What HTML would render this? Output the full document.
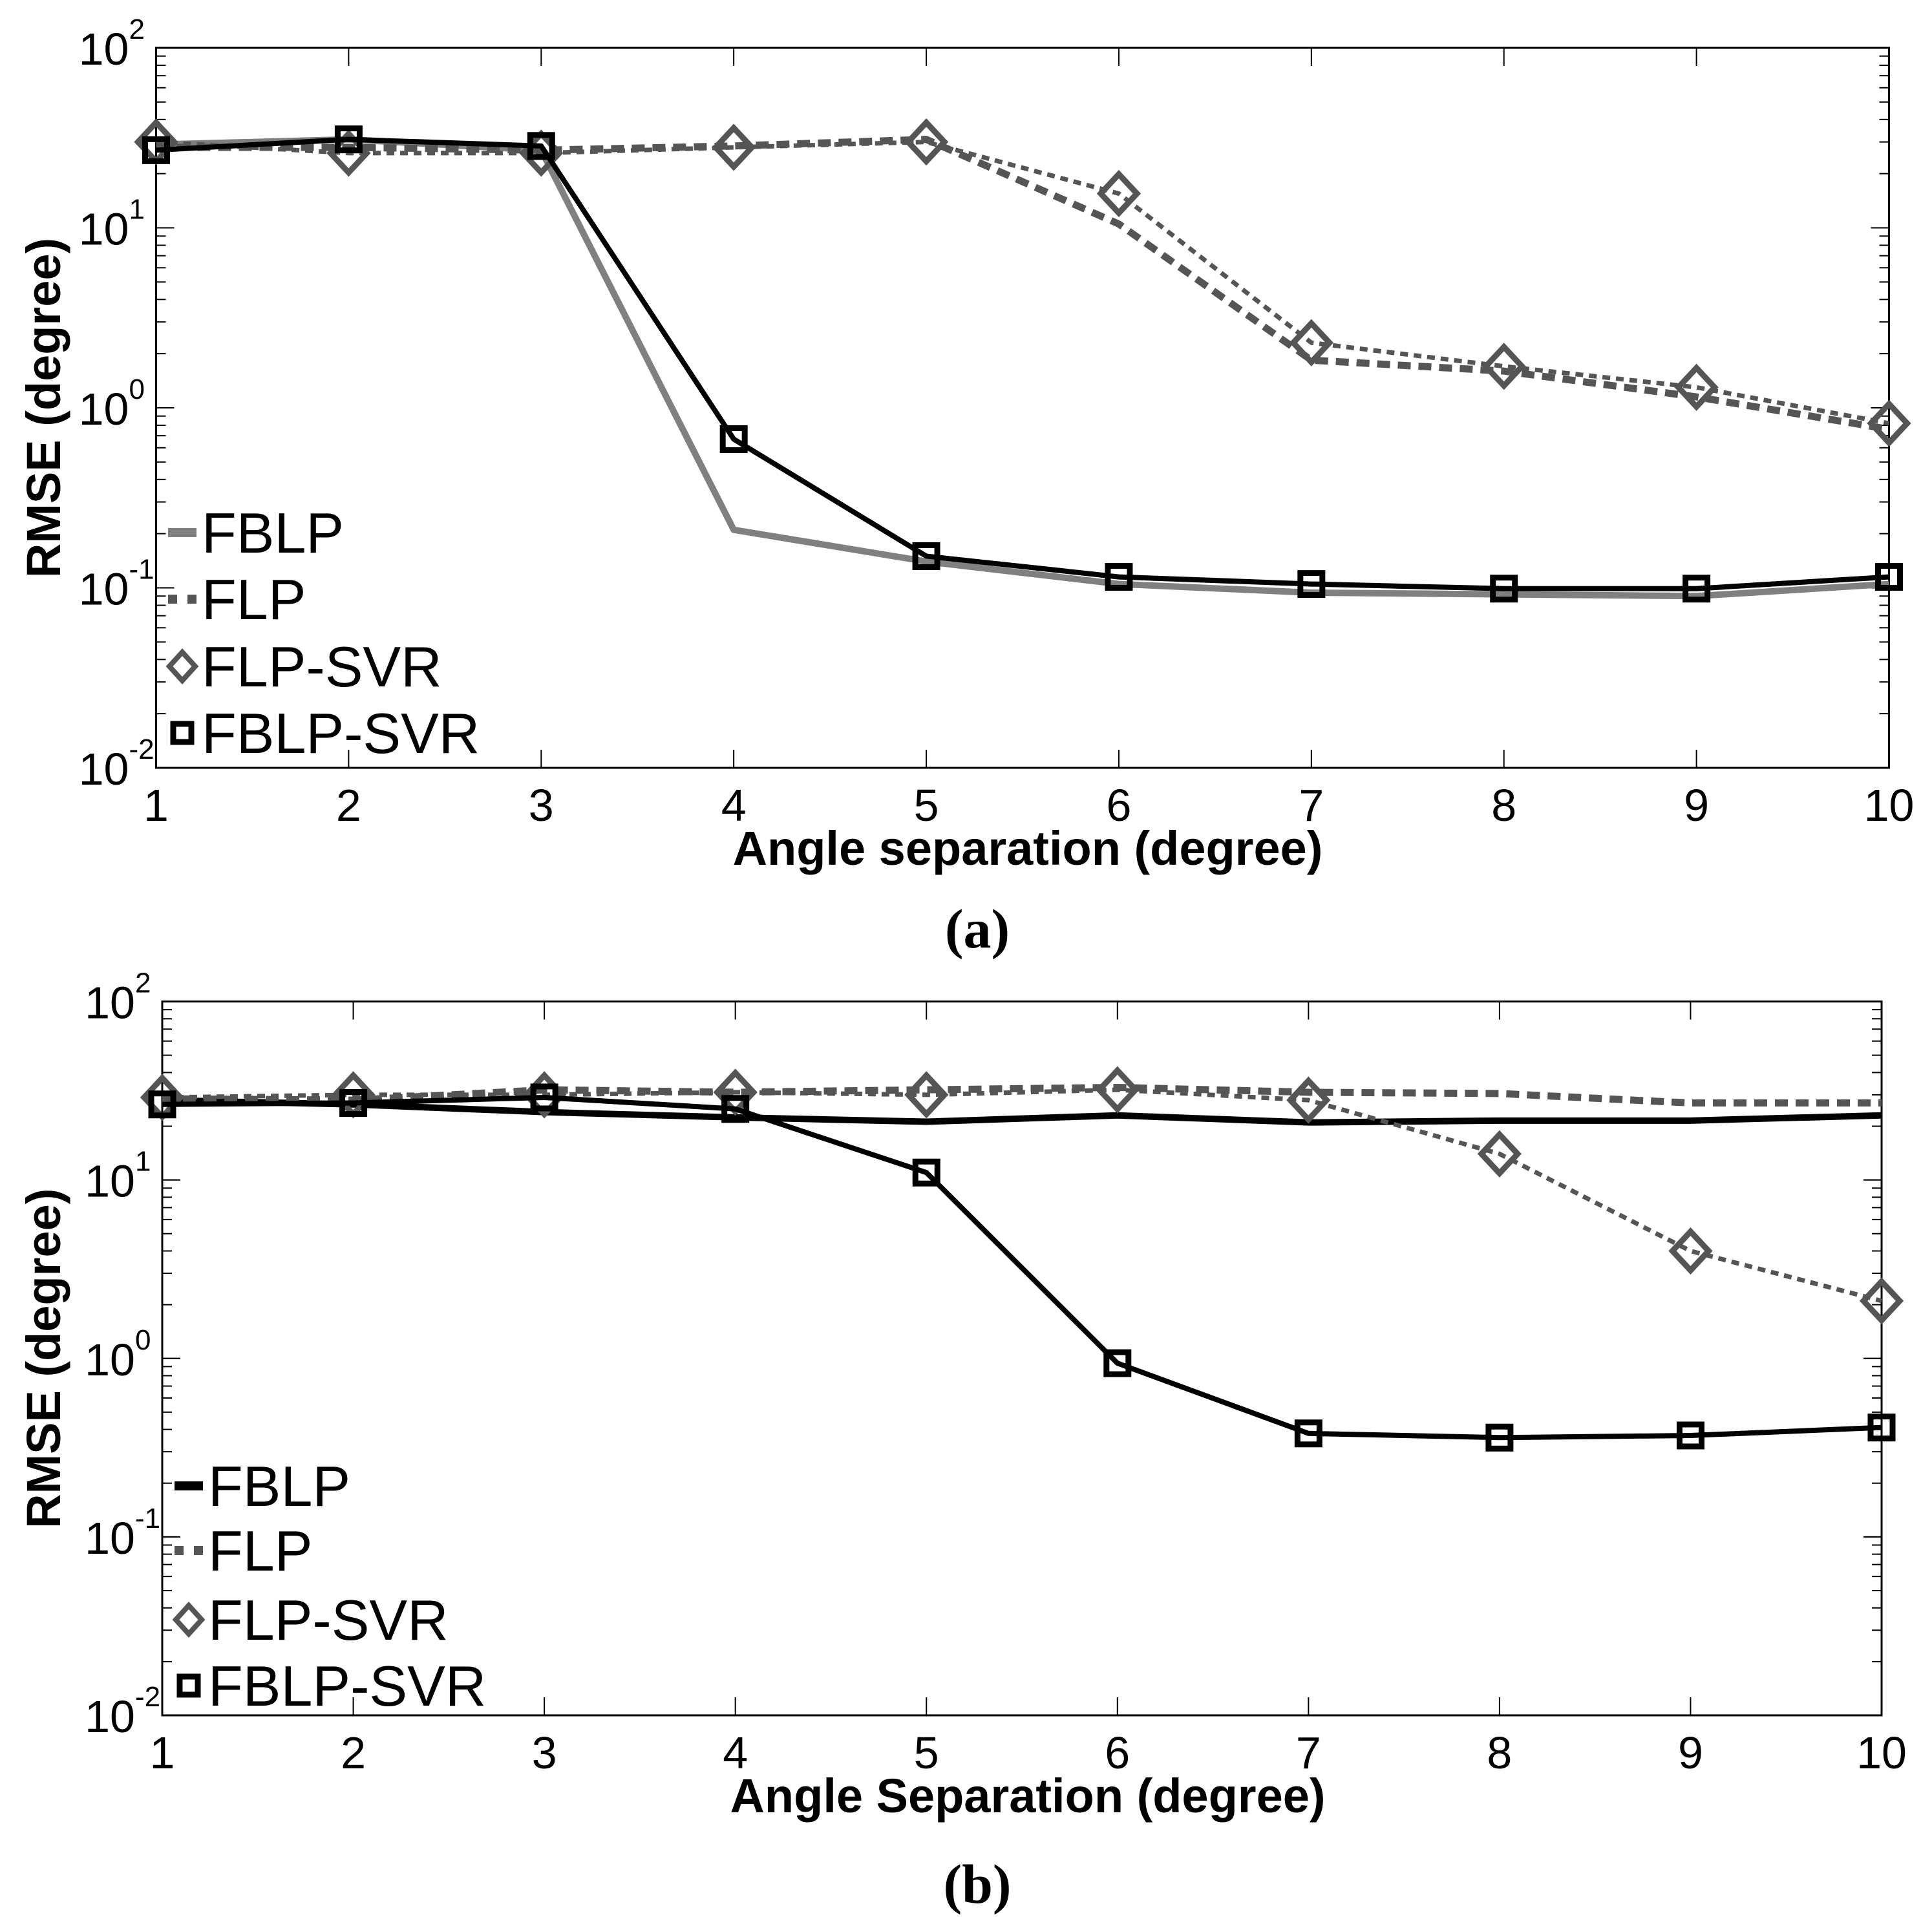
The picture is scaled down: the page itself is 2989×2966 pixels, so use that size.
<!DOCTYPE html>
<html><head><meta charset="utf-8"><style>
html,body{margin:0;padding:0;background:#fff;}
svg{display:block;font-family:"Liberation Sans",sans-serif;}
</style></head><body>
<svg id="fig" width="2989" height="2966" viewBox="0 0 2989 2966" xmlns="http://www.w3.org/2000/svg"></svg>
<script>
const categories = [1,2,3,4,5,6,7,8,9,10];
const yTickExps = [2,1,0,-1,-2];
const a_FBLP = [29,31,27,0.21,0.14,0.105,0.094,0.092,0.09,0.105];
const a_FLP = [28,28,27,28.5,31,10.5,1.84,1.6,1.15,0.76];
const a_FLPSVR = [30,26,26,28,30,15.5,2.3,1.7,1.3,0.82];
const a_FBLPSVR = [27,31,28.5,0.67,0.15,0.115,0.105,0.099,0.099,0.115];
const b_FBLP = [28,26.5,24,22.4,21.2,23,21,21.5,21.5,23];
const b_FLP = [28.5,28,32,31,32,33,31,30.5,27,27];
const b_FLPSVR = [29,30,30,31,30,32,28,14,4.0,2.1];
const b_FBLPSVR = [26.5,27,29,25,11,0.94,0.38,0.36,0.37,0.41];
const legendLabels = ["FBLP","FLP","FLP-SVR","FBLP-SVR"];

const NS="http://www.w3.org/2000/svg";
const svg=document.getElementById('fig');
function mk(tag,attrs,parent){const e=document.createElementNS(NS,tag);for(const k in attrs)e.setAttribute(k,attrs[k]);(parent||svg).appendChild(e);return e;}

function panel(id,L,R,T,B,series,fblpColor,fblpW,xTitle,caption,legX,legYs,capY,xtY){
  const g=mk('g',{});
  
  
  const xs=v=>L+(v-1)*(R-L)/9;
  const ys=v=>B-(Math.log10(v)+2)*(B-T)/4;
  const frame=mk('rect',{x:L,y:T,width:R-L,height:B-T,fill:'none',stroke:'#000','stroke-width':3},g);
  
  
  for(let e=-2;e<2;e++){for(let m=1;m<=10;m++){const v=m*Math.pow(10,e);const y=ys(v);const len=(m==1||m==10)?28:15;
    mk('line',{x1:L,y1:y,x2:L+len,y2:y,stroke:'#000','stroke-width':2},g);
    mk('line',{x1:R,y1:y,x2:R-len,y2:y,stroke:'#000','stroke-width':2},g);}}
  categories.forEach(c=>{const x=xs(c);
    mk('line',{x1:x,y1:B,x2:x,y2:B-28,stroke:'#000','stroke-width':2},g);
    mk('line',{x1:x,y1:T,x2:x,y2:T+28,stroke:'#000','stroke-width':2},g);
    const t=mk('text',{x:x,y:xtY+2,'font-size':70,'text-anchor':'middle'},g);t.textContent=c;
    
    
  });
  yTickExps.forEach(e=>{const y=ys(Math.pow(10,e));
    const t=mk('text',{x:L-42,y:y+26,'font-size':70,'text-anchor':'end'},g);t.textContent='10';
    
    
    const s=mk('text',{x:L-42,y:y-14,'font-size':44,'text-anchor':'start'},g);s.textContent=String(e);
    
    
  });
  const styles=[
    {c:fblpColor,w:fblpW,d:null,m:null},
    {c:'#555',w:11,d:'20 12',m:null},
    {c:'#555',w:7,d:'12 9',m:'d'},
    {c:'#000',w:8,d:null,m:'s'}];
  series.forEach((arr,i)=>{const st=styles[i];
    const pts=arr.map((v,j)=>xs(categories[j])+','+ys(v)).join(' ');
    const pl=mk('polyline',{points:pts,fill:'none',stroke:st.c,'stroke-width':st.w,'stroke-linejoin':'round'},g);
    if(st.d)pl.setAttribute('stroke-dasharray',st.d);
    
    
    if(st.m){arr.forEach((v,j)=>{const x=xs(categories[j]),y=ys(v);let mm;
      if(st.m=='d'){mm=mk('polygon',{points:`${x},${y-30} ${x+28},${y} ${x},${y+30} ${x-28},${y}`,fill:'none',stroke:'#555','stroke-width':9},g);}
      else{mm=mk('rect',{x:x-17,y:y-17,width:34,height:34,fill:'none',stroke:'#000','stroke-width':9},g);}
      
      });}
  });
  legendLabels.forEach((lab,i)=>{const y=legYs[i];const st=styles[i];const sx=legX-30;
    if(i==0)mk('line',{x1:sx-22,y1:y,x2:sx+22,y2:y,stroke:st.c,'stroke-width':14},g);
    if(i==1)mk('line',{x1:sx-22,y1:y,x2:sx+22,y2:y,stroke:'#555','stroke-width':14,'stroke-dasharray':'14 16'},g);
    if(i==2)mk('polygon',{points:`${sx},${y-22} ${sx+20},${y} ${sx},${y+22} ${sx-20},${y}`,fill:'none',stroke:'#555','stroke-width':8},g);
    if(i==3)mk('rect',{x:sx-14,y:y-14,width:28,height:28,fill:'none',stroke:'#000','stroke-width':9},g);
    const t=mk('text',{x:legX,y:y+31,'font-size':88},g);t.textContent=lab;
    
    
  });
  const cx=(L+R)/2;
  const xt=mk('text',{x:1590,y:xtY+70,'font-size':74,'font-weight':'bold','text-anchor':'middle'},g);
  xt.textContent=xTitle;
  
  
  const cy=(T+B)/2;
  const yt=mk('text',{x:0,y:0,'font-size':74,'font-weight':'bold','text-anchor':'middle',transform:`translate(67 ${cy}) rotate(-90) translate(0 26)`},g);
  yt.textContent='RMSE (degree)';
  
  
  const cp=mk('text',{x:1512,y:capY,'font-size':86,'font-weight':'bold','text-anchor':'middle','font-family':'Liberation Serif, serif'},g);
  cp.textContent=caption;
  
  
}
panel('a',241.5,2922.5,74,1188,[a_FBLP,a_FLP,a_FLPSVR,a_FBLPSVR],'#808080',10,'Angle separation (degree)','(a)',312,[824,927,1031,1134],1466,1268);
panel('b',251,2911,1549.5,2654,[b_FBLP,b_FLP,b_FLPSVR,b_FBLPSVR],'#000',10,'Angle Separation (degree)','(b)',322,[2299,2399,2506,2608],2944,2734);
</script>
</body></html>
